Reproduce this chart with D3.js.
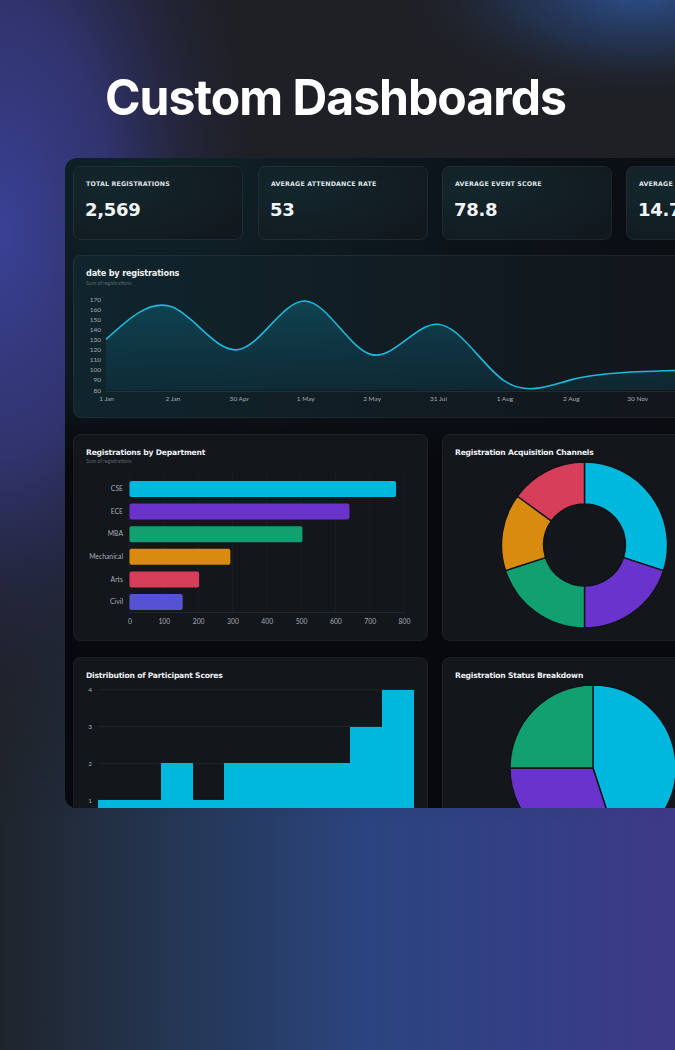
<!DOCTYPE html>
<html>
<head>
<meta charset="utf-8">
<script src="https://cdn.jsdelivr.net/npm/d3@7"></script>
<style>
html,body{margin:0;padding:0;background:#1f2128;overflow:hidden;}
svg{display:block;}
</style>
</head>
<body>
<svg id="c" width="675" height="1050"></svg>
<script>
// ---------------- DATA ----------------
const kpiLabels = ["TOTAL REGISTRATIONS", "AVERAGE ATTENDANCE RATE", "AVERAGE EVENT SCORE", "AVERAGE REGISTRATIONS PER EVENT"];
const kpiValues = ["2,569", "53", "78.8", "14.7"];

const dateLabels = ["1 Jan", "2 Jan", "30 Apr", "1 May", "2 May", "31 Jul", "1 Aug", "2 Aug", "30 Nov", "1 Dec"];
const dateRegistrations = [130, 162, 120, 168, 115, 145, 89, 90, 98, 100];
const dateTicks = [80, 90, 100, 110, 120, 130, 140, 150, 160, 170];

const departments = ["CSE", "ECE", "MBA", "Mechanical", "Arts", "Civil"];
const deptRegistrations = [777, 641, 504, 294, 203, 155];
const deptTicks = [0, 100, 200, 300, 400, 500, 600, 700, 800];

const channels = ["Website", "Social Media", "Email", "Referral", "Campus Posters"];
const channelShares = [30, 20, 20, 15, 15];

const scoreBins = [50, 55, 60, 65, 70, 75, 80, 85, 90, 95, 100];
const scoreCounts = [1, 1, 2, 1, 2, 2, 2, 2, 3, 4];
const scoreTicks = [1, 2, 3, 4];

const statuses = ["Confirmed", "Pending", "Cancelled"];
const statusShares = [45, 30, 25];

// ---------------- STYLE ----------------
const C = {cyan:"#00b7de", purple:"#6a33cc", green:"#12a070", orange:"#d98b0f", red:"#d63e5a", indigo:"#5552d4"};
const deptColors = [C.cyan, C.purple, C.green, C.orange, C.red, C.indigo];
const channelColors = [C.cyan, C.purple, C.green, C.orange, C.red];
const statusColors = [C.cyan, C.purple, C.green];
const titleFont = "'DejaVu Sans', sans-serif";
const tickFont = "'Lato', 'Noto Sans', sans-serif";

const svg = d3.select("#c");
const defs = svg.append("defs");

// ---------- background ----------
function radial(id, stops, attrs){
  const g = defs.append("radialGradient").attr("id", id);
  Object.entries(attrs||{}).forEach(([k,v])=>g.attr(k,v));
  stops.forEach(s=>g.append("stop").attr("offset", s[0]).attr("stop-color", s[1]).attr("stop-opacity", s[2]));
}
function linear(id, x1,y1,x2,y2, stops, units){
  const g = defs.append("linearGradient").attr("id", id).attr("x1",x1).attr("y1",y1).attr("x2",x2).attr("y2",y2);
  if(units) g.attr("gradientUnits", units);
  stops.forEach(s=>g.append("stop").attr("offset", s[0]).attr("stop-color", s[1]).attr("stop-opacity", s[2]===undefined?1:s[2]));
}
svg.append("rect").attr("width",675).attr("height",1050).attr("fill","#1f2026");
radial("leftGlow", [[0,"#3a4196",1],[0.45,"#363a84",0.75],[0.8,"#2c2f60",0.25],[1,"#25284a",0]],
  {cx:0, cy:230, r:300, gradientUnits:"userSpaceOnUse", gradientTransform:"translate(0,230) scale(0.85,1.7) translate(0,-230)"});
svg.append("rect").attr("width",675).attr("height",1050).attr("fill","url(#leftGlow)");
radial("trGlow", [[0,"#2d5190",1],[0.5,"#26406c",0.55],[1,"#1f2026",0]],
  {cx:640, cy:-10, r:190, gradientUnits:"userSpaceOnUse", gradientTransform:"translate(640,-10) scale(1.3,0.6) translate(-640,10)"});
svg.append("rect").attr("width",675).attr("height",1050).attr("fill","url(#trGlow)");
// bottom band
linear("bottomH", 0,0,1,0, [[0,"#1f242c"],[0.25,"#243652"],[0.55,"#2b4580"],[0.8,"#343f86"],[1,"#3e3a88"]]);
linear("bottomMaskG", 0,520,0,820, [[0,"#fff",0],[1,"#fff",1]], "userSpaceOnUse");
const mk = defs.append("mask").attr("id","bottomMask");
mk.append("rect").attr("x",0).attr("y",0).attr("width",675).attr("height",1050).attr("fill","url(#bottomMaskG)");
svg.append("rect").attr("x",0).attr("y",520).attr("width",675).attr("height",530).attr("fill","url(#bottomH)").attr("mask","url(#bottomMask)");

// ---------- heading ----------
svg.append("text").attr("x",105).attr("y",115).attr("fill","#ffffff")
  .style("font-family","Inter, 'Noto Sans', sans-serif").style("font-weight",700).style("font-size","49px")
  .style("letter-spacing","-1px").attr("textLength",461).attr("lengthAdjust","spacingAndGlyphs")
  .text("Custom Dashboards");

// ---------- panel ----------
const panelX=65, panelY=158, panelW=720, panelH=650;
defs.append("clipPath").attr("id","panelClip").append("rect")
  .attr("x",panelX).attr("y",panelY).attr("width",panelW).attr("height",panelH).attr("rx",12);
radial("panelGlow", [[0,"#0f2329",1],[0.6,"#0c141a",1],[1,"#0b0e13",1]], {cx:150, cy:170, r:520, gradientUnits:"userSpaceOnUse"});
const P = svg.append("g").attr("clip-path","url(#panelClip)");
P.append("rect").attr("x",panelX).attr("y",panelY).attr("width",panelW).attr("height",panelH).attr("fill","url(#panelGlow)");
linear("panelLow", 0,380,0,460, [[0,"#0a0d12",0],[1,"#08090d",1]], "userSpaceOnUse");
P.append("rect").attr("x",panelX).attr("y",380).attr("width",panelW).attr("height",430).attr("fill","url(#panelLow)");

function card(x,y,w,h,fill){
  P.append("rect").attr("x",x+0.5).attr("y",y+0.5).attr("width",w).attr("height",h).attr("rx",7)
    .attr("fill",fill).attr("stroke","rgba(255,255,255,0.07)").attr("stroke-width",1);
}
radial("kpiFill", [[0,"#13272d",1],[1,"#11191f",1]], {cx:0.2, cy:0.3, r:0.9});
linear("lineCardFill", 0,0,1,0, [[0,"#10252d"],[0.5,"#111c23"],[1,"#12161b"]]);

// ---------- KPI cards ----------
const kpiX = [73, 258, 442, 626];
kpiLabels.forEach((lab,i)=>{
  card(kpiX[i],166,169,73,"url(#kpiFill)");
  P.append("text").attr("x",kpiX[i]+13).attr("y",186).attr("fill","#dfe3e8")
    .style("font-family",titleFont).style("font-weight",700).style("font-size","6.3px").style("letter-spacing","0.15px")
    .text(lab);
  P.append("text").attr("x",kpiX[i]+12).attr("y",216).attr("fill","#f2f4f6")
    .style("font-family",titleFont).style("font-weight",700).style("font-size","18px").style("letter-spacing","-0.3px")
    .text(kpiValues[i]);
});

// ---------- line chart ----------
card(73,255,640,162,"url(#lineCardFill)");
P.append("text").attr("x",86).attr("y",276).attr("fill","#eef1f4")
  .style("font-family",titleFont).style("font-weight",700).style("font-size","8.2px").style("letter-spacing","-0.2px").text("date by registrations");
P.append("text").attr("x",86).attr("y",284.5).attr("fill","#5d6870")
  .style("font-family",tickFont).style("font-size","5.2px").text("Sum of registrations");

const lx = d3.scalePoint().domain(dateLabels).range([106, 106+9*66.4]);
const ly = d3.scaleLinear().domain([80,170]).range([390,299]);
linear("areaFill", 0,299,0,390, [[0,"#0f4a5a",0.85],[1,"#0d3442",0.55]], "userSpaceOnUse");
const area = d3.area().x((d,i)=>lx(dateLabels[i])).y0(ly(80)).y1(d=>ly(d)).curve(d3.curveNatural);
const line = d3.line().x((d,i)=>lx(dateLabels[i])).y(d=>ly(d)).curve(d3.curveNatural);
P.append("path").datum(dateRegistrations).attr("d",area).attr("fill","url(#areaFill)");
P.append("path").datum(dateRegistrations).attr("d",line).attr("fill","none").attr("stroke","#1db9dc").attr("stroke-width",1.6);

const lyAxis = P.append("g").attr("transform","translate(101,0)")
  .call(d3.axisLeft(ly).tickValues(dateTicks).tickSize(0).tickPadding(0));
lyAxis.select(".domain").remove();
lyAxis.selectAll("text").attr("fill","#a3abb3").style("font-family",tickFont).style("font-size","6.5px");
const lxAxis = P.append("g").attr("transform","translate(0,391)")
  .call(d3.axisBottom(lx).tickSize(0).tickPadding(5));
lxAxis.select(".domain").attr("stroke","rgba(255,255,255,0.08)");
lxAxis.selectAll("text").attr("fill","#a3abb3").style("font-family",tickFont).style("font-size","6.5px");

// ---------- bar chart ----------
card(73,434,354,206,"#13161b");
P.append("text").attr("x",86).attr("y",455).attr("fill","#eef1f4")
  .style("font-family",titleFont).style("font-weight",700).style("font-size","7.6px").style("letter-spacing","-0.2px").text("Registrations by Department");
P.append("text").attr("x",86).attr("y",462.5).attr("fill","#5d6870")
  .style("font-family",tickFont).style("font-size","5.2px").text("Sum of registrations");

const bx = d3.scaleLinear().domain([0,800]).range([129.5,404]);
const by = d3.scaleBand().domain(departments).range([477.7,613.3]).paddingInner(0.29).paddingOuter(0.145);
P.append("g").selectAll("line").data(deptTicks).join("line")
  .attr("x1",d=>bx(d)).attr("x2",d=>bx(d)).attr("y1",474).attr("y2",612)
  .attr("stroke","rgba(255,255,255,0.03)");
P.append("line").attr("x1",129).attr("x2",405).attr("y1",612.5).attr("y2",612.5).attr("stroke","rgba(255,255,255,0.07)");
P.append("g").selectAll("rect").data(departments).join("rect")
  .attr("x",bx(0)).attr("y",d=>by(d)).attr("height",by.bandwidth())
  .attr("width",(d,i)=>bx(deptRegistrations[i])-bx(0)).attr("rx",2)
  .attr("fill",(d,i)=>deptColors[i]);
const bxAxis = P.append("g").attr("transform","translate(0,619)")
  .call(d3.axisBottom(bx).tickValues(deptTicks).tickSize(0).tickPadding(0));
bxAxis.select(".domain").remove();
bxAxis.selectAll("text").attr("fill","#a3abb3").style("font-family",tickFont).style("font-size","6.8px");
const byAxis = P.append("g").attr("transform","translate(123,0)")
  .call(d3.axisLeft(by).tickSize(0).tickPadding(0));
byAxis.select(".domain").remove();
byAxis.selectAll("text").attr("fill","#a3abb3").style("font-family",tickFont).style("font-size","6.8px");

// ---------- donut ----------
card(442,434,300,206,"#13161b");
P.append("text").attr("x",455).attr("y",455).attr("fill","#eef1f4")
  .style("font-family",titleFont).style("font-weight",700).style("font-size","7.6px").style("letter-spacing","-0.2px").text("Registration Acquisition Channels");
const pie = d3.pie().sort(null).value(d=>d);
const donutArc = d3.arc().innerRadius(41).outerRadius(83);
P.append("g").attr("transform","translate(584.5,545)")
  .selectAll("path").data(pie(channelShares)).join("path")
  .attr("d",donutArc).attr("fill",(d,i)=>channelColors[i])
  .attr("stroke","#101317").attr("stroke-width",1.4);

// ---------- histogram ----------
card(73,657,354,220,"#13161b");
P.append("text").attr("x",86).attr("y",678).attr("fill","#eef1f4")
  .style("font-family",titleFont).style("font-weight",700).style("font-size","7.6px").style("letter-spacing","-0.2px").text("Distribution of Participant Scores");
const hx = d3.scaleLinear().domain([50,100]).range([98,413]);
const hy = d3.scaleLinear().domain([0,4]).range([836.9,689.7]);
P.append("g").selectAll("line").data(scoreTicks).join("line")
  .attr("x1",98).attr("x2",413).attr("y1",d=>hy(d)).attr("y2",d=>hy(d))
  .attr("stroke","rgba(255,255,255,0.06)");
P.append("g").attr("shape-rendering","crispEdges").selectAll("rect").data(scoreCounts).join("rect")
  .attr("x",(d,i)=>hx(scoreBins[i])).attr("width",(d,i)=>hx(scoreBins[i+1])-hx(scoreBins[i])+0.5)
  .attr("y",d=>hy(d)).attr("height",d=>hy(0)-hy(d))
  .attr("fill",C.cyan);
const hyAxis = P.append("g").attr("transform","translate(92,0)")
  .call(d3.axisLeft(hy).tickValues(scoreTicks).tickFormat(d3.format("d")).tickSize(0).tickPadding(0));
hyAxis.select(".domain").remove();
hyAxis.selectAll("text").attr("fill","#a3abb3").style("font-family",tickFont).style("font-size","6.5px");

// ---------- pie ----------
card(442,657,300,220,"#13161b");
P.append("text").attr("x",455).attr("y",678).attr("fill","#eef1f4")
  .style("font-family",titleFont).style("font-weight",700).style("font-size","7.6px").style("letter-spacing","-0.2px").text("Registration Status Breakdown");
const pieArc = d3.arc().innerRadius(0).outerRadius(83);
P.append("g").attr("transform","translate(593,768)")
  .selectAll("path").data(pie(statusShares)).join("path")
  .attr("d",pieArc).attr("fill",(d,i)=>statusColors[i])
  .attr("stroke","#101317").attr("stroke-width",1.4);
</script>
</body>
</html>
